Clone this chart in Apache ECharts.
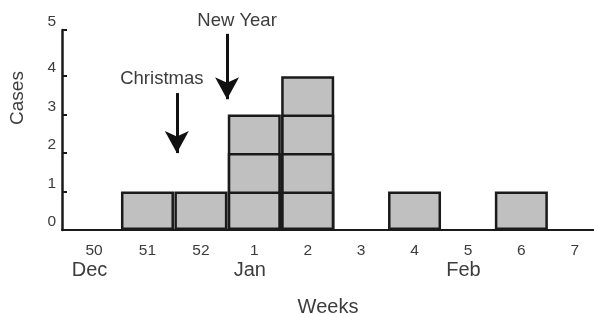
<!DOCTYPE html>
<html>
<head>
<meta charset="utf-8">
<script src="https://cdn.jsdelivr.net/npm/echarts@6/dist/echarts.min.js"></script>
<style>
  html, body { margin: 0; padding: 0; background: #fff; }
  #chart { width: 594px; height: 314px; }
</style>
</head>
<body>
<div id="chart"></div>
<script>
// data
const weeks = ['50', '51', '52', '1', '2', '3', '4', '5', '6', '7'];
const months = ['Dec', '', '', 'Jan', '', '', '', 'Feb', '', ''];
const cases = [0, 1, 1, 3, 4, 0, 1, 0, 1, 0];
const yTicks = [0, 1, 2, 3, 4, 5];

const ink = '#1a1a1a';
const textColor = '#3c3c3c';
const font = 'Liberation Sans, Arial, sans-serif';

const yMax = 5.2; // axis runs a bit past 4, top tick is labelled 5
const maxCases = Math.max(...cases);

// one box per case: tallest level first, lower levels overlap it so
// every level's top edge shows as a line
const series = [];
for (let k = maxCases; k >= 1; k--) {
  series.push({
    type: 'bar',
    barWidth: 53,
    barGap: '-100%',
    data: cases.map((c, i) => [i, c >= k ? k : '-']),
    itemStyle: { color: '#c0c0c0', borderColor: ink, borderWidth: 2.5 },
    silent: true
  });
}

series[0].markLine = {
  silent: true,
  symbol: ['none', 'arrow'],
  symbolSize: [18, 22],
  lineStyle: { color: '#111', width: 3, type: 'solid' },
  label: {
    show: true,
    position: 'start',
    formatter: '{b}',
    color: textColor,
    fontFamily: font,
    fontSize: 18.5,
    distance: 5
  },
  data: [
    [{ name: 'Christmas', coord: [1.55, 3.56], label: { offset: [-15, 0] } }, { coord: [1.55, 2.0] }],
    [{ name: 'New Year', coord: [2.49, 5.1], label: { offset: [10, 2] } }, { coord: [2.49, 3.4] }]
  ]
};

const chart = echarts.init(document.getElementById('chart'));
chart.setOption({
  backgroundColor: '#fff',
  animation: false,
  grid: { left: 62, right: 0, top: 30, bottom: 84, outerBoundsMode: 'none' },
  xAxis: {
    type: 'value',
    min: -0.6,
    max: 9.36,
    name: 'Weeks',
    nameLocation: 'middle',
    nameGap: 67,
    nameTextStyle: { color: textColor, fontFamily: font, fontSize: 20 },
    axisLine: { show: true, onZero: false, lineStyle: { color: ink, width: 2 } },
    axisTick: { show: false },
    splitLine: { show: false },
    axisLabel: {
      customValues: weeks.map((w, i) => i),
      margin: 12,
      formatter: v => '{w|' + weeks[v] + '}\n{m|' + (months[v] || ' ') + '}',
      rich: {
        w: { color: textColor, fontFamily: font, fontSize: 15.5, lineHeight: 18 },
        m: { color: textColor, fontFamily: font, fontSize: 20, lineHeight: 20, padding: [0, 9, 0, 0] }
      }
    }
  },
  yAxis: {
    type: 'value',
    min: 0,
    max: yMax,
    axisLine: { show: true, onZero: false, lineStyle: { color: ink, width: 2.5 } },
    axisTick: {
      show: true,
      inside: true,
      length: 5,
      customValues: yTicks.map((t, i) => i === yTicks.length - 1 ? yMax : t),
      lineStyle: { color: ink, width: 2 }
    },
    splitLine: { show: false },
    axisLabel: {
      customValues: yTicks.map((t, i) => i === yTicks.length - 1 ? yMax : t),
      formatter: v => String(Math.floor(v)),
      color: textColor,
      fontFamily: font,
      fontSize: 15.5,
      margin: 6,
      verticalAlign: 'bottom'
    }
  },
  graphic: [{
    type: 'text',
    x: 18,
    y: 98,
    rotation: Math.PI / 2,
    style: {
      text: 'Cases',
      fill: textColor,
      font: '19px ' + font,
      align: 'center',
      verticalAlign: 'middle'
    }
  }],
  series: series
});
</script>
</body>
</html>
